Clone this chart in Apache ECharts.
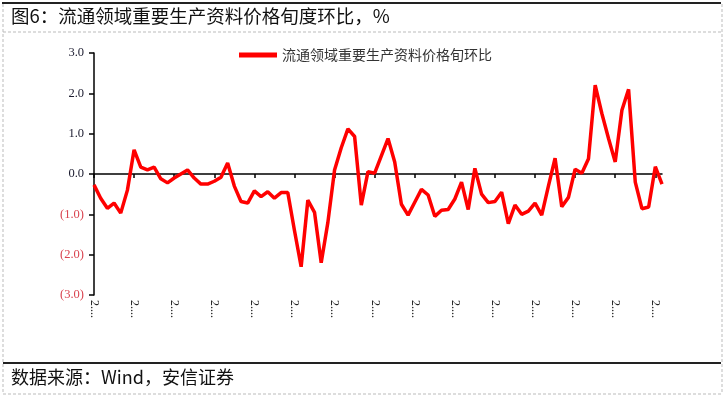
<!DOCTYPE html>
<html>
<head>
<meta charset="utf-8">
<script src="https://cdn.jsdelivr.net/npm/echarts@6/dist/echarts.min.js"></script>
<style>html,body{margin:0;padding:0;background:#fff}#c{width:725px;height:396px}</style>
</head>
<body>
<div id="c"></div>
<script>
const seriesName = '流通领域重要生产资料价格旬环比';
const titleText = '图6：流通领域重要生产资料价格旬度环比，%';
const sourceText = '数据来源：Wind，安信证券';
const values = [
  -0.27, -0.6, -0.85, -0.72, -0.97, -0.4, 0.6, 0.17, 0.1, 0.17,
  -0.12, -0.22, -0.1, 0.0, 0.1, -0.1, -0.25, -0.25, -0.18, -0.08,
  0.27, -0.3, -0.68, -0.72, -0.42, -0.56, -0.44, -0.6, -0.46, -0.46,
  -1.4, -2.3, -0.65, -0.95, -2.2, -1.2, 0.1, 0.65, 1.12, 0.93,
  -0.77, 0.06, 0.02, 0.45, 0.88, 0.3, -0.75, -1.02, -0.7, -0.38,
  -0.52, -1.05, -0.9, -0.88, -0.62, -0.2, -0.88, 0.14, -0.5, -0.71,
  -0.68, -0.45, -1.23, -0.77, -1.0, -0.92, -0.72, -1.02, -0.3, 0.39,
  -0.81, -0.58, 0.12, 0.02, 0.38, 2.2, 1.5, 0.88, 0.3, 1.58,
  2.1, -0.2, -0.86, -0.82, 0.18, -0.25
];
const categories = values.map((_, i) => 'P' + (i + 1));
const tickLabel = '2....';
const yTicks = { min: -3, max: 3, step: 1 };

const chart = echarts.init(document.getElementById('c'), null, { renderer: 'canvas' });
const numFont = 'Liberation Serif';
const cjkFont = 'Noto Sans CJK SC';
chart.setOption({
  animation: false,
  backgroundColor: '#fff',
  grid: { left: 94, right: 63, top: 53, bottom: 101, containLabel: false },
  legend: {
    left: 234, top: 43,
    icon: 'rect', itemWidth: 38, itemHeight: 5, itemGap: 6,
    textStyle: { fontFamily: cjkFont, fontSize: 14, color: '#333' },
    data: [seriesName]
  },
  xAxis: [{
    type: 'category', data: categories, boundaryGap: false, position: 'bottom',
    axisLine: { show: true, onZero: true, lineStyle: { color: '#000', width: 1.5 } },
    axisTick: { show: true, interval: 5, length: 4, lineStyle: { color: '#000', width: 1.5 } },
    axisLabel: { show: false },
    splitLine: { show: false }
  }, {
    type: 'category', data: categories, boundaryGap: false, position: 'bottom',
    axisLine: { show: false, onZero: false },
    axisTick: { show: false },
    axisLabel: {
      show: true, interval: 5, rotate: -90, margin: 5,
      formatter: () => tickLabel,
      fontFamily: numFont, fontSize: 12, color: '#222'
    },
    splitLine: { show: false }
  }],
  yAxis: {
    type: 'value', min: yTicks.min, max: yTicks.max, interval: yTicks.step,
    axisLine: { show: true, lineStyle: { color: '#000', width: 1.5 } },
    axisTick: { show: true, length: 5, lineStyle: { color: '#000', width: 1.5 } },
    splitLine: { show: false },
    axisLabel: {
      margin: 10,
      formatter: v => v < 0 ? '{n|(' + Math.abs(v).toFixed(1) + ')}' : '{p|' + v.toFixed(1) + '}',
      rich: {
        n: { color: '#d9434f', fontFamily: numFont, fontSize: 12.5 },
        p: { color: '#1a1a2e', fontFamily: numFont, fontSize: 12.5 }
      }
    }
  },
  series: [{
    name: seriesName, type: 'line', data: values, xAxisIndex: 0,
    symbol: 'none', smooth: false,
    lineStyle: { color: '#ff0000', width: 3.5 },
    itemStyle: { color: '#ff0000' }
  }],
  graphic: [
    { type: 'line', shape: { x1: 2, y1: 3, x2: 721, y2: 3 }, style: { stroke: '#222', lineWidth: 2 } },
    { type: 'line', shape: { x1: 3, y1: 32, x2: 721, y2: 32 }, style: { stroke: '#bbb', lineWidth: 1, lineDash: [3, 2] } },
    { type: 'line', shape: { x1: 3, y1: 4, x2: 3, y2: 394 }, style: { stroke: '#bbb', lineWidth: 1, lineDash: [3, 2] } },
    { type: 'line', shape: { x1: 722, y1: 4, x2: 722, y2: 394 }, style: { stroke: '#bbb', lineWidth: 1, lineDash: [3, 2] } },
    { type: 'line', shape: { x1: 3, y1: 363, x2: 721, y2: 363 }, style: { stroke: '#222', lineWidth: 2 } },
    { type: 'line', shape: { x1: 3, y1: 394, x2: 721, y2: 394 }, style: { stroke: '#bbb', lineWidth: 1, lineDash: [3, 2] } },
    { type: 'text', left: 11, top: 7, style: { text: titleText, fontFamily: cjkFont, fontSize: 18.5, fill: '#111' } },
    { type: 'text', left: 11, top: 368, style: { text: sourceText, fontFamily: cjkFont, fontSize: 18, fill: '#111' } }
  ]
});
</script>
</body>
</html>
